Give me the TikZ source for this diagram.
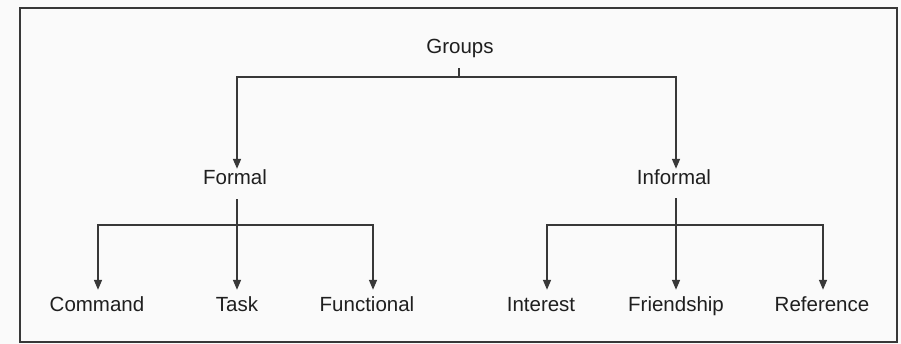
\documentclass[tikz,border=0pt]{standalone}
\usepackage{fontspec}
\setmainfont{Liberation Sans}
\usetikzlibrary{arrows.meta}
\begin{document}
\begin{tikzpicture}[x=1pt,y=-1pt,
  lbl/.style={font=\fontsize{20.5}{24}\selectfont, text height=14pt, text depth=4pt,
              inner xsep=1pt, inner ysep=1pt, text=black!88},
  conn/.style={draw=black!78, line width=1.6pt},
  arr/.style={conn, -{Triangle[length=10pt,width=8pt]}}]
\fill[black!2] (0,0) rectangle (901,344);
\useasboundingbox (0,0) rectangle (901,344);
\draw[black!78, line width=1.8pt] (20,8) rectangle (897,342);

\node[lbl] (groups) at (460,49) {Groups};
\node[lbl] (formal) at (235,180) {Formal};
\node[lbl] (informal) at (674,180) {Informal};
\node[lbl] (command) at (97,306) {Command};
\node[lbl] (task) at (237,306) {Task};
\node[lbl] (functional) at (367,306) {Functional};
\node[lbl] (interest) at (541,306) {Interest};
\node[lbl] (friendship) at (676,306) {Friendship};
\node[lbl] (reference) at (822,306) {Reference};

\coordinate (gbar) at (459,77);
\coordinate (fbar) at (237,225);
\coordinate (ibar) at (676,225);

% Groups -> Formal / Informal
\draw[conn] ([xshift=-1pt,yshift=-9pt]groups.south) -- (gbar);
\draw[arr] (gbar) -| ([xshift=2pt,yshift=1pt]formal.north);
\draw[arr] (gbar) -| ([xshift=2pt,yshift=1pt]informal.north);

% Formal -> children
\draw[conn] ([xshift=2pt,yshift=-9pt]formal.south) -- (fbar);
\draw[arr] (fbar) -| ([xshift=1pt,yshift=6pt]command.north);
\draw[arr] (fbar) -- ([yshift=6pt]task.north);
\draw[arr] (fbar) -| ([xshift=6pt,yshift=6pt]functional.north);

% Informal -> children
\draw[conn] ([xshift=2pt,yshift=-8pt]informal.south) -- (ibar);
\draw[arr] (ibar) -| ([xshift=6pt,yshift=6pt]interest.north);
\draw[arr] (ibar) -- ([yshift=6pt]friendship.north);
\draw[arr] (ibar) -| ([xshift=1pt,yshift=6pt]reference.north);
\end{tikzpicture}
\end{document}
